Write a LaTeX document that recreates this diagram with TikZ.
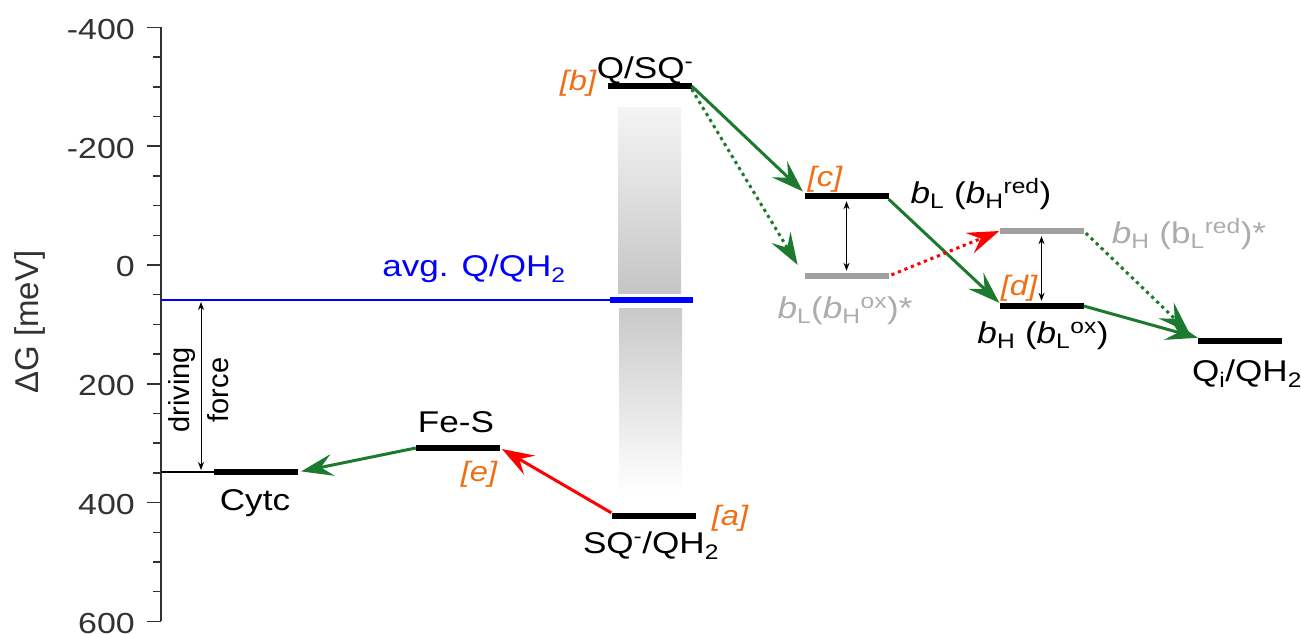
\documentclass[tikz,border=0pt]{standalone}
\usepackage{fontspec}
\setmainfont{Liberation Sans}[FakeStretch=1.17]
\newfontfamily\axisfont{Liberation Sans}
\usetikzlibrary{arrows.meta}

\definecolor{arrowgreen}{RGB}{28,122,46}
\definecolor{tagorange}{RGB}{240,110,20}
\definecolor{levelgray}{RGB}{160,160,160}
\definecolor{textgray}{RGB}{172,172,172}
\definecolor{axisgray}{RGB}{50,50,50}

\newcommand{\lvlfont}{\fontsize{30}{36}\selectfont}
\newcommand{\tagfont}{\fontsize{28}{34}\selectfont}

\begin{document}
\begin{tikzpicture}[x=1pt, y=-1pt, >=Stealth,
  level/.style={fill=black, inner sep=0pt, minimum width=84pt, minimum height=6pt},
  ghost/.style={level, fill=levelgray},
  lbl/.style={anchor=base, inner sep=0pt, font=\lvlfont},
  tagtext/.style={anchor=base, inner sep=0pt, text=tagorange, font=\tagfont\itshape},
  axis/.style={axisgray, line width=1.5pt},
  ticklbl/.style={anchor=east, inner sep=0pt, text=axisgray, font=\fontsize{29}{34}\selectfont},
  etransfer/.style={-{Stealth[length=32pt, width=22pt, inset=12pt]}, line width=3pt},
  dots/.style={dash pattern=on 3.2pt off 3.8pt},
  gap/.style={{Stealth[length=8pt, width=6pt]}-{Stealth[length=8pt, width=6pt]},
    line width=1pt, shorten <=2pt, shorten >=2pt}]
  \useasboundingbox (0,0) rectangle (1301,634);

  % energy axis, 200 meV = 118.8 px
  \draw[axis] (161,{265+0.594*(-400)}) -- (161,{265+0.594*600});
  \foreach \v in {-350,-300,...,550}
    \draw[axis] (153,{265+0.594*\v}) -- (161,{265+0.594*\v});
  \foreach \v in {-400,-200,...,600} {
    \draw[axis] (147,{265+0.594*\v}) -- (161,{265+0.594*\v});
    \node[ticklbl] (tick\v) at (135,{267+0.594*\v}) {\v};
  }
  \node[rotate=90, text=axisgray, font=\axisfont\fontsize{33}{36}\selectfont] (ylabel) at (30,322) {ΔG [meV]};

  % spread of the Qo site potentials
  \shade[top color=gray!8, bottom color=gray!45] (618,107) rectangle (681,293);
  \shade[top color=gray!42, bottom color=white] (619,308) rectangle (682,493);

  % levels
  \node[level] (qsq) at (649.5,86) {};
  \node[level] (sqqh) at (653.5,516) {};
  \node[level] (fes) at (458,448) {};
  \node[level] (cytc) at (256,472) {};
  \node[level, fill=blue, minimum width=83pt] (avg) at (651.5,300) {};
  \node[level] (bl) at (846.5,196) {};
  \node[ghost] (blox) at (846.5,276) {};
  \node[ghost] (bhred) at (1041.5,231) {};
  \node[level] (bh) at (1041.5,306) {};
  \node[level] (qi) at (1240,341) {};

  % reference lines and driving force
  \coordinate (avg0) at (161,300);
  \coordinate (cyt0) at (161,472);
  \draw[blue, line width=1.5pt] (avg0) -- (avg.west);
  \draw[line width=1.2pt] (cyt0) -- (cytc.west);
  \coordinate (dftop) at (201,300);
  \coordinate (dfbot) at (201,472);
  \draw[gap] (dftop) -- (dfbot);
  \node[rotate=90, font=\axisfont\fontsize{29}{32}\selectfont] (driving) at (182,390) {driving};
  \node[rotate=90, font=\axisfont\fontsize{29}{32}\selectfont] (force) at (218,390) {force};

  % electron transfer steps
  \draw[etransfer, arrowgreen, shorten >=2pt] (qsq.east) -- (bl.north west);
  \draw[etransfer, arrowgreen, dots, shorten >=13pt] (qsq.south east) -- (blox.west);
  \draw[etransfer, arrowgreen] (bl.south east) -- (bh.north west);
  \draw[etransfer, red, dots, shorten <=3pt] (blox.east) -- (bhred.west);
  \draw[etransfer, arrowgreen, dots, shorten <=3pt, shorten >=12pt] (bhred.east) -- (qi.west);
  \draw[etransfer, arrowgreen] (bh.east) -- (qi.north west);
  \draw[etransfer, arrowgreen, shorten >=3pt] (fes.west) -- (cytc.east);
  \draw[etransfer, red, shorten >=2pt] (sqqh.north west) -- (fes.east);

  % coupling of the two hemes
  \draw[gap] (bl.south) -- (blox.north);
  \draw[gap] (bhred.south) -- (bh.north);

  % labels
  \node[lbl] (lqsq) at (645,78) {Q/SQ\textsuperscript{-}};
  \node[lbl] (lsqqh) at (651,553) {SQ\textsuperscript{-}/QH\textsubscript{2}};
  \node[lbl] (lfes) at (456,432) {Fe-S};
  \node[lbl] (lcytc) at (255,510) {Cytc};
  \node[lbl, text=blue] (lavg) at (474,276) {avg. Q/QH\textsubscript{2}};
  \node[lbl] (lbl) at (981,203) {\textit{b}\textsubscript{L} (\textit{b}\textsubscript{H}\textsuperscript{red})};
  \node[lbl, text=textgray] (lblox) at (845,318) {\textit{b}\textsubscript{L}(\textit{b}\textsubscript{H}\textsuperscript{ox})*};
  \node[lbl, text=textgray] (lbhred) at (1189,243) {\textit{b}\textsubscript{H} (b\textsubscript{L}\textsuperscript{red})*};
  \node[lbl] (lbh) at (1043,343) {\textit{b}\textsubscript{H} (\textit{b}\textsubscript{L}\textsuperscript{ox})};
  \node[lbl] (lqi) at (1247,381) {Q\textsubscript{i}/QH\textsubscript{2}};

  \node[tagtext] (ta) at (730,525) {[a]};
  \node[tagtext] (tb) at (578,91) {[b]};
  \node[tagtext] (tc) at (825,186) {[c]};
  \node[tagtext] (td) at (1019,295) {[d]};
  \node[tagtext] (te) at (479,481) {[e]};
\end{tikzpicture}
\end{document}
